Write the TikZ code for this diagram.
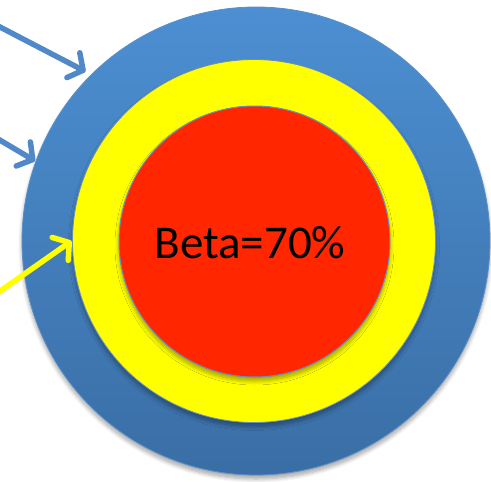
\documentclass[tikz,border=0pt]{standalone}
\usepackage{fontspec}
\setmainfont{Carlito}
\usetikzlibrary{arrows.meta,shadows.blur}

\definecolor{ringTop}{HTML}{4C8FD2}
\definecolor{ringBot}{HTML}{3A6EA5}
\definecolor{ringEdge}{HTML}{5A8FCB}
\definecolor{midYellow}{HTML}{FFFF00}
\definecolor{coreRed}{HTML}{FF2600}
\definecolor{thinEdge}{HTML}{6A8FBF}
\definecolor{pointerBlue}{HTML}{5088C8}

\tikzset{
  disc/.style={circle, inner sep=0pt, outer sep=0pt},
  discshadow/.style={blur shadow={shadow xshift=0pt, shadow yshift=-4pt,
      shadow blur steps=8, shadow blur radius=4pt, shadow opacity=35}},
  pointer/.style={line width=5.5pt, line cap=round,
      -{Straight Barb[length=11pt, width=28pt, line cap=round, line join=round]}},
}

\begin{document}
\begin{tikzpicture}[x=1pt, y=-1pt]
  \useasboundingbox (0,0) rectangle (491,482);

  % three nested discs
  \node[disc, discshadow, minimum size=468pt, top color=ringTop, bottom color=ringBot,
        draw=ringEdge, line width=0.8pt] (outer) at (256,241) {};
  \node[disc, discshadow, minimum size=363pt, fill=midYellow,
        draw=thinEdge, line width=0.8pt] (middle) at (254,241) {};
  \node[disc, discshadow, minimum size=271pt, fill=coreRed,
        draw=thinEdge, line width=1pt] (core) at (254.5,241.5) {};

  \node[anchor=base, font=\fontsize{47}{50}\selectfont, inner sep=0pt] (label) at (250,258) {Beta=70\%};

  % incoming pointers
  \coordinate (p1) at (-2,26);
  \coordinate (p2) at (-2,139);
  \coordinate (p3) at (-4,294);

  \draw[pointer, pointerBlue] (p1) -- ([shift={(-5,-4)}]outer.135);
  \draw[pointer, pointerBlue] (p2) -- ([shift={(-1,0)}]outer.160);
  \draw[pointer, draw=midYellow] (p3) -- ([shift={(-1,0)}]middle.180);
\end{tikzpicture}
\end{document}
